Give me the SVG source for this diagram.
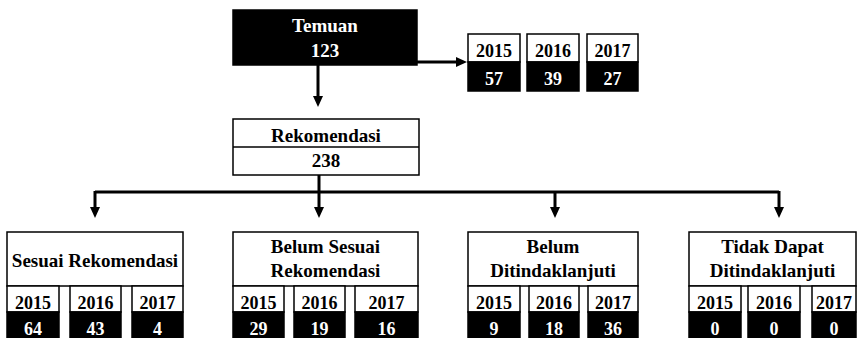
<svg xmlns="http://www.w3.org/2000/svg" width="861" height="338" viewBox="0 0 861 338">
<style>
.box{fill:#fff;stroke:#000;stroke-width:1.5}
.dark{fill:#000;stroke:#000;stroke-width:1.5}
text{font-family:'Liberation Serif','Times New Roman',Times,serif}
.hd{font-weight:bold;font-size:19px;text-anchor:middle;fill:#000}
.yr{font-weight:bold;font-size:18px;text-anchor:middle;fill:#000}
.wt{fill:#fff}
.con{stroke:#000;stroke-width:3;fill:none}
</style>
<defs>
<marker id="ah" markerUnits="userSpaceOnUse" markerWidth="12" markerHeight="12" refX="1" refY="5" orient="auto">
<path d="M0,0 L11,5 L0,10 z" fill="#000"/>
</marker>
</defs>
<g id="connectors">
<line class="con" x1="417" y1="62" x2="457" y2="62" marker-end="url(#ah)"/>
<line class="con" x1="318" y1="65" x2="318" y2="97" marker-end="url(#ah)"/>
<line class="con" x1="319" y1="175" x2="319" y2="208" marker-end="url(#ah)"/>
<line class="con" x1="95" y1="192" x2="779" y2="192"/>
<line class="con" x1="95" y1="191" x2="95" y2="208" marker-end="url(#ah)"/>
<line class="con" x1="555" y1="191" x2="555" y2="208" marker-end="url(#ah)"/>
<line class="con" x1="779" y1="191" x2="779" y2="208" marker-end="url(#ah)"/>
</g>
<g id="temuan">
<rect class="dark" x="233" y="10" width="184" height="55"/>
<text class="hd wt" x="325" y="32">Temuan</text>
<text class="hd wt" x="325" y="57">123</text>
</g>
<g id="temuan-years">
<rect class="box" x="468" y="34" width="52" height="28"/><rect class="dark" x="468" y="62" width="52" height="29"/>
<text class="yr" x="494" y="57">2015</text><text class="yr wt" x="494" y="85">57</text>
<rect class="box" x="527" y="34" width="52" height="28"/><rect class="dark" x="527" y="62" width="52" height="29"/>
<text class="yr" x="553" y="57">2016</text><text class="yr wt" x="553" y="85">39</text>
<rect class="box" x="587" y="34" width="51" height="28"/><rect class="dark" x="587" y="62" width="51" height="29"/>
<text class="yr" x="612.5" y="57">2017</text><text class="yr wt" x="612.5" y="85">27</text>
</g>
<g id="rekomendasi">
<rect class="box" x="233" y="119" width="186" height="56"/>
<line x1="233" y1="147" x2="419" y2="147" stroke="#000" stroke-width="1.5"/>
<text class="hd" x="326" y="142">Rekomendasi</text>
<text class="hd" x="326" y="167">238</text>
</g>
<g id="sesuai">
<rect class="box" x="7" y="232" width="176" height="54"/>
<text class="hd" x="95" y="267">Sesuai Rekomendasi</text>
<rect class="box" x="7" y="286" width="52" height="26"/><rect class="dark" x="7" y="312" width="52" height="30"/>
<text class="yr" x="33" y="309">2015</text><text class="yr wt" x="33" y="335">64</text>
<rect class="box" x="70" y="286" width="51" height="26"/><rect class="dark" x="70" y="312" width="51" height="30"/>
<text class="yr" x="95.5" y="309">2016</text><text class="yr wt" x="95.5" y="335">43</text>
<rect class="box" x="132" y="286" width="51" height="26"/><rect class="dark" x="132" y="312" width="51" height="30"/>
<text class="yr" x="157.5" y="309">2017</text><text class="yr wt" x="157.5" y="335">4</text>
</g>
<g id="belum-sesuai">
<rect class="box" x="233" y="232" width="185" height="54"/>
<text class="hd" x="325.5" y="253">Belum Sesuai</text>
<text class="hd" x="325.5" y="277">Rekomendasi</text>
<rect class="box" x="233" y="286" width="51" height="26"/><rect class="dark" x="233" y="312" width="51" height="30"/>
<text class="yr" x="258.5" y="309">2015</text><text class="yr wt" x="258.5" y="335">29</text>
<rect class="box" x="294" y="286" width="51" height="26"/><rect class="dark" x="294" y="312" width="51" height="30"/>
<text class="yr" x="319.5" y="309">2016</text><text class="yr wt" x="319.5" y="335">19</text>
<rect class="box" x="355" y="286" width="63" height="26"/><rect class="dark" x="355" y="312" width="63" height="30"/>
<text class="yr" x="386.5" y="309">2017</text><text class="yr wt" x="386.5" y="335">16</text>
</g>
<g id="belum-ditindaklanjuti">
<rect class="box" x="468" y="232" width="170" height="54"/>
<text class="hd" x="553" y="253">Belum</text>
<text class="hd" x="553" y="277">Ditindaklanjuti</text>
<rect class="box" x="468" y="286" width="52" height="26"/><rect class="dark" x="468" y="312" width="52" height="30"/>
<text class="yr" x="494" y="309">2015</text><text class="yr wt" x="494" y="335">9</text>
<rect class="box" x="529" y="286" width="50" height="26"/><rect class="dark" x="529" y="312" width="50" height="30"/>
<text class="yr" x="554" y="309">2016</text><text class="yr wt" x="554" y="335">18</text>
<rect class="box" x="588" y="286" width="50" height="26"/><rect class="dark" x="588" y="312" width="50" height="30"/>
<text class="yr" x="613" y="309">2017</text><text class="yr wt" x="613" y="335">36</text>
</g>
<g id="tidak-dapat">
<rect class="box" x="689" y="232" width="167" height="54"/>
<text class="hd" x="772.5" y="253">Tidak Dapat</text>
<text class="hd" x="772.5" y="277">Ditindaklanjuti</text>
<rect class="box" x="689" y="286" width="52" height="26"/><rect class="dark" x="689" y="312" width="52" height="30"/>
<text class="yr" x="715" y="309">2015</text><text class="yr wt" x="715" y="335">0</text>
<rect class="box" x="748" y="286" width="52" height="26"/><rect class="dark" x="748" y="312" width="52" height="30"/>
<text class="yr" x="774" y="309">2016</text><text class="yr wt" x="774" y="335">0</text>
<rect class="box" x="812" y="286" width="44" height="26"/><rect class="dark" x="812" y="312" width="44" height="30"/>
<text class="yr" x="834" y="309">2017</text><text class="yr wt" x="834" y="335">0</text>
</g>
</svg>
